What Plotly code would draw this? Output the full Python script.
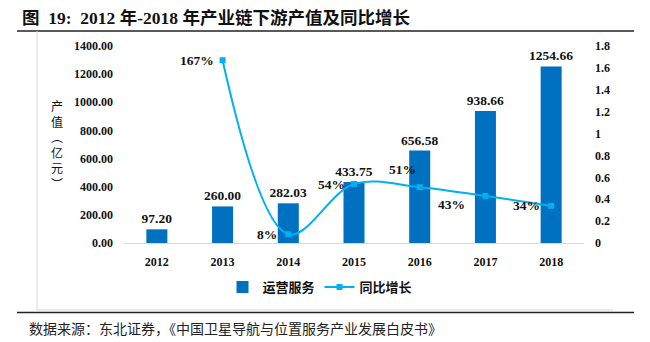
import plotly.graph_objects as go

# Downstream output value (100 million yuan) and year-on-year growth
years = ["2012", "2013", "2014", "2015", "2016", "2017", "2018"]
output_value = [97.20, 260.00, 282.03, 433.75, 656.58, 938.66, 1254.66]
growth_years = ["2013", "2014", "2015", "2016", "2017", "2018"]
growth_rate = [1.67, 0.08, 0.54, 0.51, 0.43, 0.34]
# label offsets (pixels) relative to each growth marker
growth_label_dx = [-7, -9, -7, -2, -18, -9]
growth_label_dy = [0, 0, -1, 18, -9, 0]

W, H = 650, 342
L, R, T, B = 124, 584, 46, 243  # plot area in pixels

SERIF = "Liberation Serif, Noto Sans CJK SC"
CJK = "Noto Sans CJK SC"
BAR_BLUE = "#0070C0"
LINE_BLUE = "#00B0F0"


def px_x(px):
    return (px - L) / (R - L)


def px_y(py):
    return (B - py) / (B - T)


fig = go.Figure()

fig.add_trace(go.Bar(
    x=years, y=output_value, name="运营服务",
    marker=dict(color=BAR_BLUE, line=dict(width=0)),
    width=0.32,
    text=[f"{v:.2f}" for v in output_value],
    textposition="outside",
    constraintext="none",
    textfont=dict(family=SERIF, size=13.5, color="#111111", weight="bold"),
    cliponaxis=False,
))

fig.add_trace(go.Scatter(
    x=growth_years, y=growth_rate, name="同比增长", yaxis="y2",
    mode="lines+markers",
    line=dict(color=LINE_BLUE, width=2, shape="spline", smoothing=1.0),
    marker=dict(symbol="square", size=6, color=LINE_BLUE),
    cliponaxis=False,
))

tick_font = dict(family=SERIF, size=12, color="#111111", weight="bold")

shapes = [
    # rule under the figure title
    dict(type="line", xref="paper", yref="paper", x0=px_x(17), x1=px_x(634),
         y0=px_y(31), y1=px_y(31), line=dict(color="#222222", width=1.5)),
    # light frame around the chart
    dict(type="line", xref="paper", yref="paper", x0=px_x(37), x1=px_x(37),
         y0=px_y(31), y1=px_y(310), line=dict(color="#D9D9D9", width=1)),
    dict(type="line", xref="paper", yref="paper", x0=px_x(37), x1=px_x(613),
         y0=px_y(310), y1=px_y(310), line=dict(color="#D9D9D9", width=1)),
    # rule above the source note
    dict(type="line", xref="paper", yref="paper", x0=px_x(17), x1=px_x(634),
         y0=px_y(312.5), y1=px_y(312.5), line=dict(color="#222222", width=1.5)),
]

annotations = [
    dict(text="图  19:  2012 年-2018 年产业链下游产值及同比增长",
         xref="paper", yref="paper", x=px_x(20), y=px_y(18),
         xanchor="left", yanchor="middle", showarrow=False,
         font=dict(family=SERIF, size=17.5, color="#111111", weight="bold")),
    dict(text="产<br>值<br>︵<br>亿<br>元<br>︶",
         xref="paper", yref="paper", x=px_x(57), y=px_y(144),
         xanchor="center", yanchor="middle", showarrow=False,
         font=dict(family=CJK, size=12, color="#111111"), align="center"),
    dict(text="数据来源：东北证券，《中国卫星导航与位置服务产业发展白皮书》",
         xref="paper", yref="paper", x=px_x(27), y=px_y(328),
         xanchor="left", yanchor="middle", showarrow=False,
         font=dict(family=CJK, size=14, color="#222222")),
]

# growth percentage labels beside the line markers (category index on the x axis)
for yr, g, dx, dy in zip(growth_years, growth_rate, growth_label_dx, growth_label_dy):
    annotations.append(dict(
        text=f"{g:.0%}", xref="x", yref="y2", x=years.index(yr), y=g,
        xanchor="right", yanchor="middle", xshift=dx, yshift=dy, showarrow=False,
        font=dict(family=SERIF, size=13.5, color="#111111", weight="bold"),
    ))

fig.update_layout(
    width=W, height=H,
    margin=dict(l=L, r=W - R, t=T, b=H - B, pad=0),
    paper_bgcolor="white", plot_bgcolor="white",
    showlegend=True,
    legend=dict(orientation="h", x=px_x(320), y=px_y(287), xanchor="center", yanchor="middle",
                font=dict(family=CJK, size=13, color="#111111", weight="bold"),
                itemwidth=30, tracegroupgap=0, bgcolor="rgba(0,0,0,0)"),
    xaxis=dict(type="category", categoryorder="array", categoryarray=years,
               range=[-0.5, len(years) - 0.5], showgrid=False, showline=True,
               linecolor="#D9D9D9", linewidth=1,
               ticks="", tickfont=tick_font, ticklabelstandoff=8, zeroline=False),
    yaxis=dict(range=[0, 1400], dtick=200, tickformat=".2f", showgrid=False, zeroline=False,
               showline=False, ticks="", tickfont=tick_font, ticklabelstandoff=10),
    yaxis2=dict(range=[0, 1.8], dtick=0.2, overlaying="y", side="right", showgrid=False,
                zeroline=False, showline=False, ticks="", tickfont=tick_font,
                ticklabelstandoff=10),
    shapes=shapes,
    annotations=annotations,
)

fig.write_html("out.html")
